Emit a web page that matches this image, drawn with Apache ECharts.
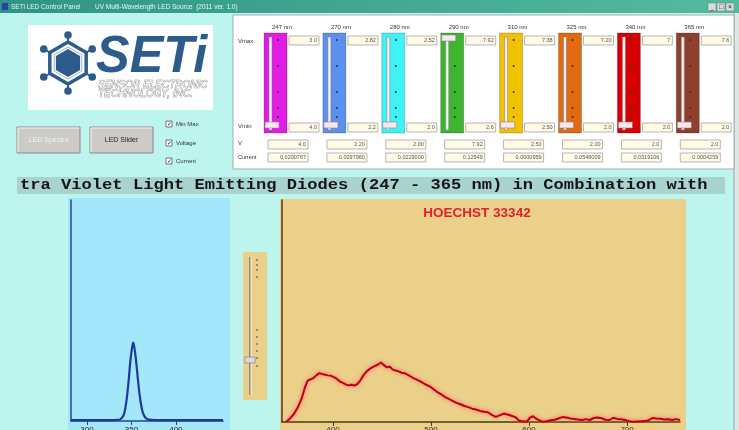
<!DOCTYPE html>
<html>
<head>
<meta charset="utf-8">
<title>SETi UV LED spectra</title>
<script src="https://cdn.jsdelivr.net/npm/echarts@6/dist/echarts.min.js"></script>
<style>
  html, body { margin: 0; padding: 0; background: #bdf4ee; }
  #main { width: 739px; height: 430px; }
</style>
</head>
<body>
<div id="main"></div>
<script>
// LED slider panel
const ledNames = ['247 nm', '270 nm', '280 nm', '290 nm', '310 nm', '325 nm', '340 nm', '365 nm'];
const ledColors = ['#e21ee6', '#5b8ff0', '#3ef2f8', '#3fb52f', '#f2c100', '#e2690f', '#d60000', '#8e3f2e'];
const vmaxVals = ['3.0', '2.82', '2.52', '7.92', '7.38', '7.20', '7', '7.6'];
const vminVals = ['4.0', '2.2', '2.0', '2.6', '2.50', '2.0', '2.0', '2.0'];
const voltVals = ['4.0', '2.20', '2.00', '7.92', '2.50', '2.00', '2.0', '2.0'];
const currentVals = ['0.0200767', '0.0297960', '0.0229000', '0.12549', '0.0000959', '0.0546009', '0.0319106', '0.0004259'];

// left chart: LED emission (nm / intensity)
const ledNm = [282, 300, 320, 335, 338, 341, 343, 345, 347, 349, 351, 352, 353, 355, 357, 359, 361, 363, 366, 370, 380, 400, 420, 440, 453];
const ledVal = [0.4, 0.4, 0.4, 0.5, 0.9, 2.5, 5.5, 11, 19, 28, 34, 35.5, 34, 28, 20, 12.5, 7, 3.6, 1.4, 0.6, 0.4, 0.4, 0.4, 0.4, 0.4];
const ledTicks = [300, 350, 400];

// right chart: Hoechst 33342 fluorescence
const emNm = [352, 356, 360, 364, 368, 371, 374, 377, 380, 383, 386, 389, 392, 395, 398, 401, 404, 407, 410, 413,
  416, 419, 422, 425, 428, 431, 434, 437, 440, 443, 446, 449, 452, 455, 458, 461, 464, 467, 470, 473,
  476, 479, 482, 486, 490, 494, 498, 502, 506, 510, 514, 518, 522, 526, 530, 534, 538, 542, 546, 550,
  554, 558, 562, 566, 570, 574, 578, 582, 586, 590, 594, 598, 601, 604, 607, 610, 614, 618, 622, 626,
  630, 634, 638, 642, 646, 650, 654, 658, 662, 666, 670, 674, 678, 682, 686, 690, 694, 698, 702, 706,
  710, 714, 718, 722, 726, 730, 734, 738, 742, 746, 750, 754];
const emVal = [0, 1.5, 3.5, 6.5, 10.5, 15, 18.5, 19.2, 19.8, 21.0, 22.0, 21.6, 21.3, 21.0, 20.8, 20.2, 19.4, 18.3, 17.6, 16.9,
  16.5, 16.8, 16.4, 17.2, 18.8, 21.0, 22.6, 23.8, 24.6, 25.3, 25.9, 26.8, 25.6, 24.6, 24.9, 23.6, 23.2, 22.8, 22.2, 22.0,
  21.3, 20.6, 19.8, 19.0, 18.1, 17.0, 16.2, 15.0, 13.6, 12.6, 11.3, 10.4, 9.5, 8.6, 8.0, 7.2, 6.7, 6.0, 5.6, 5.0,
  4.6, 4.4, 3.2, 2.3, 3.0, 3.8, 3.4, 2.8, 2.2, 0.6, 0.2, 0.3, 2.0, 2.6, 1.6, 0.8, 0.1, 0.3, 0.8, 1.0,
  1.6, 2.2, 2.0, 1.6, 1.4, 1.1, 0.9, 1.3, 0.9, 1.8, 2.0, 1.7, 1.0, 0.9, 1.9, 1.4, 1.2, 0.9, 0.4, 0.1,
  0.2, 0.3, 0.4, 0.8, 1.8, 1.6, 1.5, 1.1, 1.2, 0.9, 1.3, 0.9];
const emTicks = [400, 500, 600, 700];

const bannerText = 'tra Violet Light Emitting Diodes (247 - 365 nm) in Combination with';
const uiFont = 'Liberation Sans';

const chart = echarts.init(document.getElementById('main'), null, { renderer: 'canvas' });

// small helpers for the window chrome
const els = [];
function rect(x, y, w, h, style, z) {
  els.push({ type: 'rect', shape: { x: x, y: y, width: w, height: h }, style: style, z: z === undefined ? -1 : z });
}
function line(x1, y1, x2, y2, stroke, w, z) {
  els.push({ type: 'line', shape: { x1: x1, y1: y1, x2: x2, y2: y2 }, style: { stroke: stroke, lineWidth: w || 1 }, z: z === undefined ? -1 : z });
}
function text(x, y, str, size, color, align) {
  els.push({
    type: 'text', x: x, y: y, z: 10,
    style: { text: str, fill: color || '#222', font: (size || 7) + 'px "' + uiFont + '"', textAlign: align || 'left', textVerticalAlign: 'middle' }
  });
}
function dot(cx, cy, r, fill) {
  els.push({ type: 'circle', shape: { cx: cx, cy: cy, r: r }, style: { fill: fill }, z: 1 });
}

// title bar
rect(0, 0, 739, 13, {
  fill: { type: 'linear', x: 0, y: 0, x2: 1, y2: 0, colorStops: [{ offset: 0, color: '#2f9486' }, { offset: 1, color: '#54bb9f' }] }
});
rect(2, 3, 6, 7, { fill: '#2a3fa8' });
text(11, 7, 'SETi LED Control Panel        UV Multi-Wavelength LED Source  (2011 ver. 1.0)', 6.5, '#e8f6f0');
['_', '\u25a1', '\u00d7'].forEach(function (g, i) {
  rect(708 + i * 9, 3, 8, 8, { fill: '#d8dcd8', stroke: '#6a7a72', lineWidth: 0.5 }, 1);
  text(712 + i * 9, 7, g, 7, '#222', 'center');
});
// right window border
rect(734, 13, 5, 417, { fill: '#dfe6e4' });
line(734, 13, 734, 430, '#9aa8a6', 1);

// logo
rect(28, 25, 185, 85, { fill: '#ffffff' });
const hx = 68, hy = 63, logoBlue = '#2d5b8c';
function hexPts(r) {
  const p = [];
  for (let k = 0; k < 6; k++) {
    const a = (-90 + k * 60) * Math.PI / 180;
    p.push([hx + r * Math.cos(a), hy + r * Math.sin(a)]);
  }
  return p;
}
hexPts(28).forEach(function (p, k) {
  const q = hexPts(21)[k];
  line(q[0], q[1], p[0], p[1], logoBlue, 2, 0);
  dot(p[0], p[1], 3.8, logoBlue);
});
els.push({ type: 'polygon', shape: { points: hexPts(21) }, style: { fill: 'none', stroke: logoBlue, lineWidth: 3.5 }, z: 0 });
els.push({ type: 'polygon', shape: { points: hexPts(16) }, style: { fill: '#ffffff', stroke: '#9fb4ca', lineWidth: 1 }, z: 0 });
els.push({ type: 'polygon', shape: { points: hexPts(14) }, style: { fill: logoBlue }, z: 0 });
els.push({
  type: 'text', x: 96, y: 58, z: 10, scaleX: 0.97,
  style: { text: 'SETi', fill: logoBlue, font: 'italic bold 52px "' + uiFont + '"', textAlign: 'left', textVerticalAlign: 'middle' }
});
['SENSOR ELECTRONIC', 'TECHNOLOGY, INC.'].forEach(function (s, k) {
  els.push({
    type: 'text', x: 98, y: 85 + k * 9, z: 10,
    style: { text: s, fill: '#f0f0f0', stroke: '#6a6a6a', lineWidth: 0.6, font: 'italic 10px "' + uiFont + '"', textAlign: 'left', textVerticalAlign: 'middle' }
  });
});

// buttons
[[17, 'LED Spectra', '#f2f2f2'], [90, 'LED Slider', '#222']].forEach(function (b) {
  rect(b[0], 127, 63, 26, { fill: '#cdcbc8', stroke: '#8a8a8a', lineWidth: 1 });
  line(b[0] + 1, 128, b[0] + 62, 128, '#f6f6f6', 1);
  line(b[0] + 1, 128, b[0] + 1, 152, '#f6f6f6', 1);
  text(b[0] + 31.5, 140, b[1], 7, b[2], 'center');
});
// checkboxes
[[124, 'Min Max'], [143, 'Voltage'], [161, 'Current']].forEach(function (c) {
  rect(166, c[0] - 3, 6, 6, { fill: '#ffffff', stroke: '#555', lineWidth: 0.8 }, 1);
  text(169, c[0], '\u2713', 6, '#111', 'center');
  text(176, c[0], c[1], 6, '#333');
});

// slider panel
rect(233, 15, 501, 154, { fill: '#ffffff', stroke: '#9fb0b0', lineWidth: 1 });
text(238, 41, 'Vmax', 6, '#333');
text(238, 126, 'Vmin', 6, '#333');
text(238, 143, 'V', 6, '#333');
text(238, 157, 'Current', 5.5, '#333');
const dotYs = [40, 66, 92, 108, 117];
ledNames.forEach(function (name, i) {
  const bx = 264 + i * 58.9;
  text(bx + 18, 27, name, 6, '#333', 'center');
  rect(bx, 33, 23, 100, { fill: ledColors[i], stroke: 'rgba(0,0,0,0.25)', lineWidth: 0.8 });
  rect(bx + 5, 37, 3, 93, { fill: '#f6eef4', stroke: '#7a7a7a', lineWidth: 0.5 }, 0);
  dotYs.forEach(function (y) { dot(bx + 14, y, 1, '#333'); });
  const ty = i === 3 ? 35 : 122;
  rect(bx + 1, ty, 14, 6, { fill: '#f8e8ee', stroke: '#888', lineWidth: 0.6 }, 1);
  // value boxes
  [[bx + 25, 36, 30, vmaxVals[i]], [bx + 25, 123, 30, vminVals[i]], [bx + 4, 140, 40, voltVals[i]], [bx + 4, 153, 40, currentVals[i]]].forEach(function (t) {
    rect(t[0], t[1], t[2], 9, { fill: '#fffbe6', stroke: '#9a9a9a', lineWidth: 0.7 }, 0);
    text(t[0] + t[2] - 2, t[1] + 4.5, t[3], 5.5, '#555', 'right');
  });
});

// banner
rect(17, 177, 708, 17, { fill: '#a9d3cf' });
els.push({
  type: 'text', x: 20, y: 185.5, z: 10, scaleX: 1.14,
  style: { text: bannerText, fill: '#161616', font: 'bold 15px "Liberation Mono"', textAlign: 'left', textVerticalAlign: 'middle' }
});

// chart panels
rect(68, 198, 162, 232, { fill: '#a4e6fa' });
rect(280, 199, 406, 231, { fill: '#ebd08a' });
// middle slider
rect(243, 252, 24, 148, { fill: '#ebd08a' });
line(250, 257, 250, 395, '#8a8a8a', 2, 0);
line(251, 257, 251, 395, '#f4f4f4', 1, 0);
[260, 265, 270, 277, 330, 337, 344, 351, 358, 366].forEach(function (y) { dot(257, y, 0.8, '#333'); });
rect(245, 357, 10, 6, { fill: '#dcdcdc', stroke: '#777', lineWidth: 0.6 }, 1);
// spectrum title
els.push({
  type: 'text', x: 477, y: 213, z: 10,
  style: { text: 'HOECHST 33342', fill: '#e3202e', font: 'bold 13.5px "' + uiFont + '"', textAlign: 'center', textVerticalAlign: 'middle' }
});

const ledAxis = '#27478a';
const emAxis = '#4a3a18';

const option = {
  animation: false,
  backgroundColor: '#bdf4ee',
  graphic: { elements: els },
  grid: [
    { left: 71, top: 200, width: 152, height: 221, outerBoundsMode: 'none', containLabel: false },
    { left: 282, top: 200, width: 398, height: 222, outerBoundsMode: 'none', containLabel: false }
  ],
  xAxis: [
    {
      type: 'value', gridIndex: 0, min: 282, max: 453,
      axisLine: { onZero: false, lineStyle: { color: ledAxis, width: 1.5 } },
      axisTick: { customValues: ledTicks, length: 4, lineStyle: { color: ledAxis } },
      axisLabel: { customValues: ledTicks, fontSize: 8, margin: 5, color: '#223', fontFamily: uiFont },
      splitLine: { show: false }
    },
    {
      type: 'value', gridIndex: 1, min: 348, max: 754,
      axisLine: { onZero: false, lineStyle: { color: emAxis, width: 1.5 } },
      axisTick: { customValues: emTicks, length: 4, lineStyle: { color: emAxis } },
      axisLabel: { customValues: emTicks, fontSize: 8, margin: 4, color: '#332', fontFamily: uiFont },
      splitLine: { show: false }
    }
  ],
  yAxis: [
    {
      type: 'value', gridIndex: 0, min: 0, max: 100,
      axisLine: { show: true, onZero: false, lineStyle: { color: ledAxis, width: 1.5 } },
      axisTick: { show: false }, axisLabel: { show: false }, splitLine: { show: false }
    },
    {
      type: 'value', gridIndex: 1, min: 0, max: 100,
      axisLine: { show: true, onZero: false, lineStyle: { color: emAxis, width: 1.5 } },
      axisTick: { show: false }, axisLabel: { show: false }, splitLine: { show: false }
    }
  ],
  series: [
    {
      name: 'LED', type: 'line', xAxisIndex: 0, yAxisIndex: 0,
      data: ledNm.map(function (x, i) { return [x, ledVal[i]]; }),
      showSymbol: false, smooth: 0.3,
      lineStyle: { color: '#1c3a9e', width: 2.2 }
    },
    {
      name: 'HOECHST 33342', type: 'line', xAxisIndex: 1, yAxisIndex: 1,
      data: emNm.map(function (x, i) { return [x, emVal[i]]; }),
      showSymbol: false,
      lineStyle: { color: '#bf0010', width: 2, shadowColor: 'rgba(255,80,110,0.9)', shadowBlur: 4 }
    }
  ]
};

chart.setOption(option);
window.addEventListener('resize', function () { chart.resize(); });
</script>
</body>
</html>
